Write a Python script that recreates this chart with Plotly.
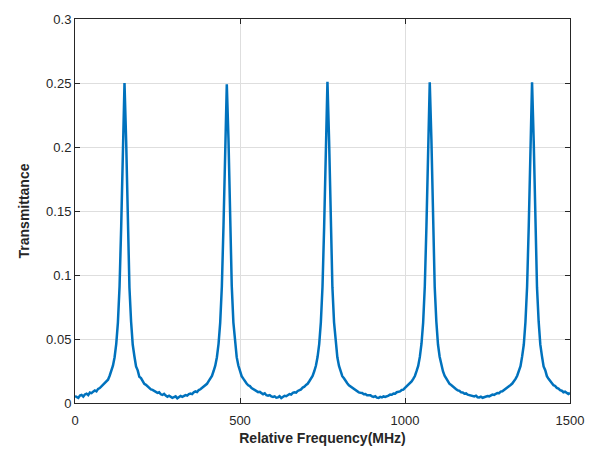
import plotly.graph_objects as go

# Frequency axis (MHz), 5 MHz sampling
freq_start = 0
freq_step = 5
freq = [freq_start + i * freq_step for i in range(301)]

# Transmittance values (rows of 10 samples = 50 MHz)
transmittance = [
    0.0055, 0.0049, 0.0040, 0.0058, 0.0063, 0.0050, 0.0067, 0.0073, 0.0062, 0.0082,   # 0-45
    0.0077, 0.0089, 0.0098, 0.0091, 0.0110, 0.0117, 0.0131, 0.0138, 0.0156, 0.0168,   # 50-95
    0.0182, 0.0213, 0.0249, 0.0292, 0.0358, 0.0462, 0.0628, 0.0910, 0.1380, 0.2060,   # 100-145
    0.2500, 0.2050, 0.1390, 0.0900, 0.0635, 0.0455, 0.0365, 0.0285, 0.0255, 0.0205,   # 150-195
    0.0195, 0.0170, 0.0149, 0.0142, 0.0127, 0.0121, 0.0106, 0.0103, 0.0094, 0.0083,   # 200-245
    0.0079, 0.0084, 0.0068, 0.0063, 0.0071, 0.0058, 0.0049, 0.0057, 0.0051, 0.0040,   # 250-295
    0.0046, 0.0052, 0.0037, 0.0044, 0.0055, 0.0048, 0.0053, 0.0062, 0.0058, 0.0070,   # 300-345
    0.0073, 0.0069, 0.0084, 0.0090, 0.0085, 0.0101, 0.0107, 0.0118, 0.0126, 0.0139,   # 350-395
    0.0150, 0.0171, 0.0188, 0.0212, 0.0250, 0.0292, 0.0358, 0.0462, 0.0628, 0.0910,   # 400-445
    0.1385, 0.2055, 0.2490, 0.2070, 0.1375, 0.0915, 0.0628, 0.0462, 0.0358, 0.0293,   # 450-495
    0.0250, 0.0210, 0.0190, 0.0168, 0.0152, 0.0138, 0.0132, 0.0117, 0.0108, 0.0101,   # 500-545
    0.0094, 0.0085, 0.0087, 0.0074, 0.0069, 0.0076, 0.0061, 0.0058, 0.0062, 0.0051,   # 550-595
    0.0047, 0.0052, 0.0041, 0.0044, 0.0053, 0.0039, 0.0048, 0.0056, 0.0053, 0.0061,   # 600-645
    0.0070, 0.0066, 0.0079, 0.0083, 0.0081, 0.0094, 0.0101, 0.0106, 0.0121, 0.0127,   # 650-695
    0.0141, 0.0150, 0.0170, 0.0189, 0.0212, 0.0248, 0.0291, 0.0359, 0.0460, 0.0630,   # 700-745
    0.0908, 0.1378, 0.2065, 0.2510, 0.2050, 0.1390, 0.0905, 0.0630, 0.0462, 0.0357,   # 750-795
    0.0290, 0.0252, 0.0209, 0.0193, 0.0168, 0.0154, 0.0138, 0.0129, 0.0119, 0.0108,   # 800-845
    0.0097, 0.0095, 0.0083, 0.0080, 0.0078, 0.0068, 0.0070, 0.0060, 0.0058, 0.0061,   # 850-895
    0.0052, 0.0047, 0.0053, 0.0042, 0.0040, 0.0048, 0.0044, 0.0051, 0.0047, 0.0056,   # 900-945
    0.0058, 0.0066, 0.0065, 0.0074, 0.0072, 0.0084, 0.0087, 0.0091, 0.0102, 0.0104,   # 950-995
    0.0118, 0.0131, 0.0139, 0.0152, 0.0168, 0.0188, 0.0211, 0.0249, 0.0290, 0.0360,   # 1000-1045
    0.0463, 0.0628, 0.0912, 0.1385, 0.2055, 0.2505, 0.2060, 0.1380, 0.0908, 0.0636,   # 1050-1095
    0.0457, 0.0361, 0.0292, 0.0248, 0.0213, 0.0188, 0.0171, 0.0149, 0.0141, 0.0128,   # 1100-1145
    0.0123, 0.0108, 0.0099, 0.0095, 0.0083, 0.0082, 0.0073, 0.0075, 0.0065, 0.0062,   # 1150-1195
    0.0061, 0.0054, 0.0052, 0.0057, 0.0045, 0.0043, 0.0049, 0.0041, 0.0047, 0.0051,   # 1200-1245
    0.0055, 0.0052, 0.0061, 0.0066, 0.0063, 0.0074, 0.0078, 0.0077, 0.0089, 0.0091,   # 1250-1295
    0.0100, 0.0108, 0.0119, 0.0128, 0.0141, 0.0152, 0.0169, 0.0188, 0.0213, 0.0249,   # 1300-1345
    0.0287, 0.0364, 0.0457, 0.0633, 0.0910, 0.1383, 0.2062, 0.2505, 0.2048, 0.1388,   # 1350-1395
    0.0905, 0.0637, 0.0458, 0.0366, 0.0286, 0.0256, 0.0210, 0.0189, 0.0170, 0.0152,   # 1400-1445
    0.0139, 0.0133, 0.0118, 0.0112, 0.0100, 0.0096, 0.0084, 0.0088, 0.0075, 0.0070,   # 1450-1495
    0.0079,                                                                           # 1500
]

x_tick_vals = [0, 500, 1000, 1500]
x_tick_text = ["0", "500", "1000", "1500"]
y_tick_vals = [0, 0.05, 0.1, 0.15, 0.2, 0.25, 0.3]
y_tick_text = ["0", "0.05", "0.1", "0.15", "0.2", "0.25", "0.3"]

x_label = "Relative Frequency(MHz)"
y_label = "Transmittance"

FONT = "Liberation Sans, Arial, sans-serif"
AXIS_COLOR = "#262626"
GRID_COLOR = "#dedede"

fig = go.Figure()
fig.add_trace(go.Scatter(
    x=freq, y=transmittance, mode="lines",
    line=dict(color="#0072BD", width=2.5),
    showlegend=False,
))

axis_common = dict(
    showline=True, linecolor=AXIS_COLOR, linewidth=1, mirror="ticks",
    ticks="inside", ticklen=5, tickwidth=1, tickcolor=AXIS_COLOR,
    showgrid=True, gridcolor=GRID_COLOR, gridwidth=1,
    zeroline=False,
    tickfont=dict(family=FONT, size=13, color=AXIS_COLOR),
)

fig.update_xaxes(
    range=[0, 1500], tickmode="array", tickvals=x_tick_vals, ticktext=x_tick_text,
    ticklabelstandoff=5,
    title=dict(text="<b>" + x_label + "</b>", font=dict(family=FONT, size=14, color=AXIS_COLOR), standoff=6),
    **axis_common,
)
fig.update_yaxes(
    range=[0, 0.3], tickmode="array", tickvals=y_tick_vals, ticktext=y_tick_text,
    title=dict(text="<b>" + y_label + "</b>", font=dict(family=FONT, size=14, color=AXIS_COLOR), standoff=13),
    **axis_common,
)

fig.update_layout(
    width=596, height=455,
    margin=dict(l=75, r=25, t=14, b=50),
    paper_bgcolor="white", plot_bgcolor="white",
    font=dict(family=FONT),
)

fig.write_html("out.html")
